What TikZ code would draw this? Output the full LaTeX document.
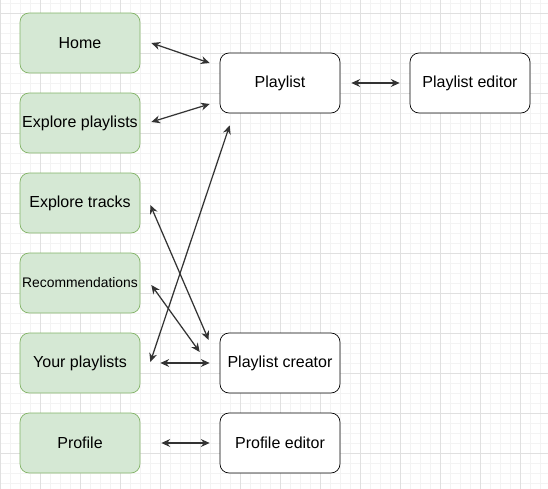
\documentclass[tikz,border=0pt]{standalone}
\usepackage{fontspec}
\setmainfont{Liberation Sans}
\usepackage{xcolor}
\usetikzlibrary{positioning, calc, arrows.meta}
\definecolor{G1}{HTML}{d5e8d4}
\definecolor{G2}{HTML}{82b366}
\definecolor{L1}{HTML}{333333}
\definecolor{M1}{HTML}{f3f3f3}
\definecolor{M2}{HTML}{e0e0e0}

\begin{document}
\begin{tikzpicture}[
	x=0.02cm, y=-0.02cm,
	gvertex/.style = {draw=G2, fill=G1, rectangle, rounded corners=0.18cm, minimum width=2.4cm, minimum height=1.2cm, align=center, inner sep=0pt, font=\fontsize{9.1}{11}\selectfont},
	vertex/.style = {draw=black, fill=white, rectangle, rounded corners=0.18cm, minimum width=2.4cm, minimum height=1.2cm, align=center, inner sep=0pt, font=\fontsize{9.1}{11}\selectfont},
  every edge/.style={draw, {Stealth[length=5pt,width=4.5pt]}-{Stealth[length=5pt,width=4.5pt]}, color=L1, line width=0.7pt}
]
  % Background grid
  \fill[white] (0,0) rectangle (548,489);
  \useasboundingbox (0,0) rectangle (548,489);
  \begin{scope}[shift={(0,3)}]
    \draw[M1, line width=0.4pt] (0,-10) grid[step=0.2cm] (550,490);
  \end{scope}
  \begin{scope}[shift={(0,13)}]
    \draw[M2, line width=0.4pt] (0,-40) grid[step=0.8cm] (550,480);
  \end{scope}

  % Define vertices
  \node[gvertex] at (80, 43) (home) {Home};
  \node[gvertex] at (80, 123) (explpl) {Explore playlists};
  \node[gvertex] at (80, 203) (expltr) {Explore tracks};
  \node[gvertex, font=\fontsize{7.9}{9}\selectfont] at (80, 283) (rec) {Recommendations};
  \node[gvertex] at (80, 363) (yourpl) {Your playlists};
  \node[gvertex] at (80, 443) (profile) {Profile};
  \node[vertex] at (280, 83) (playlist) {Playlist};
  \node[vertex] at (470, 83) (pleditor) {Playlist editor};
  \node[vertex] at (280, 363) (plcreator) {Playlist creator};
  \node[vertex] at (280, 443) (profeditor) {Profile editor};

  % Edges
  \draw ($(home.east)+(11,0)$) edge ($(playlist.west)+(-10,-20)$);
  \draw ($(explpl.east)+(11,-1)$) edge ($(playlist.west)+(-10,21)$);
  \draw ($(playlist.east)+(11,0)$) edge ($(pleditor.west)+(-10,0)$);
  \draw ($(expltr.east)+(10,2)$) edge ($(plcreator.west)+(-11,-23)$);
  \draw ($(rec.east)+(11,2)$) edge ($(plcreator.west)+(-20,-11)$);
  \draw ($(yourpl.east)+(10,-1)$) edge ($(playlist.south west)+(10,12)$);
  \draw ($(yourpl.east)+(20,0)$) edge ($(plcreator.west)+(-10,0)$);
  \draw ($(profile.east)+(21,0)$) edge ($(profeditor.west)+(-10,0)$);
\end{tikzpicture}
\end{document}
